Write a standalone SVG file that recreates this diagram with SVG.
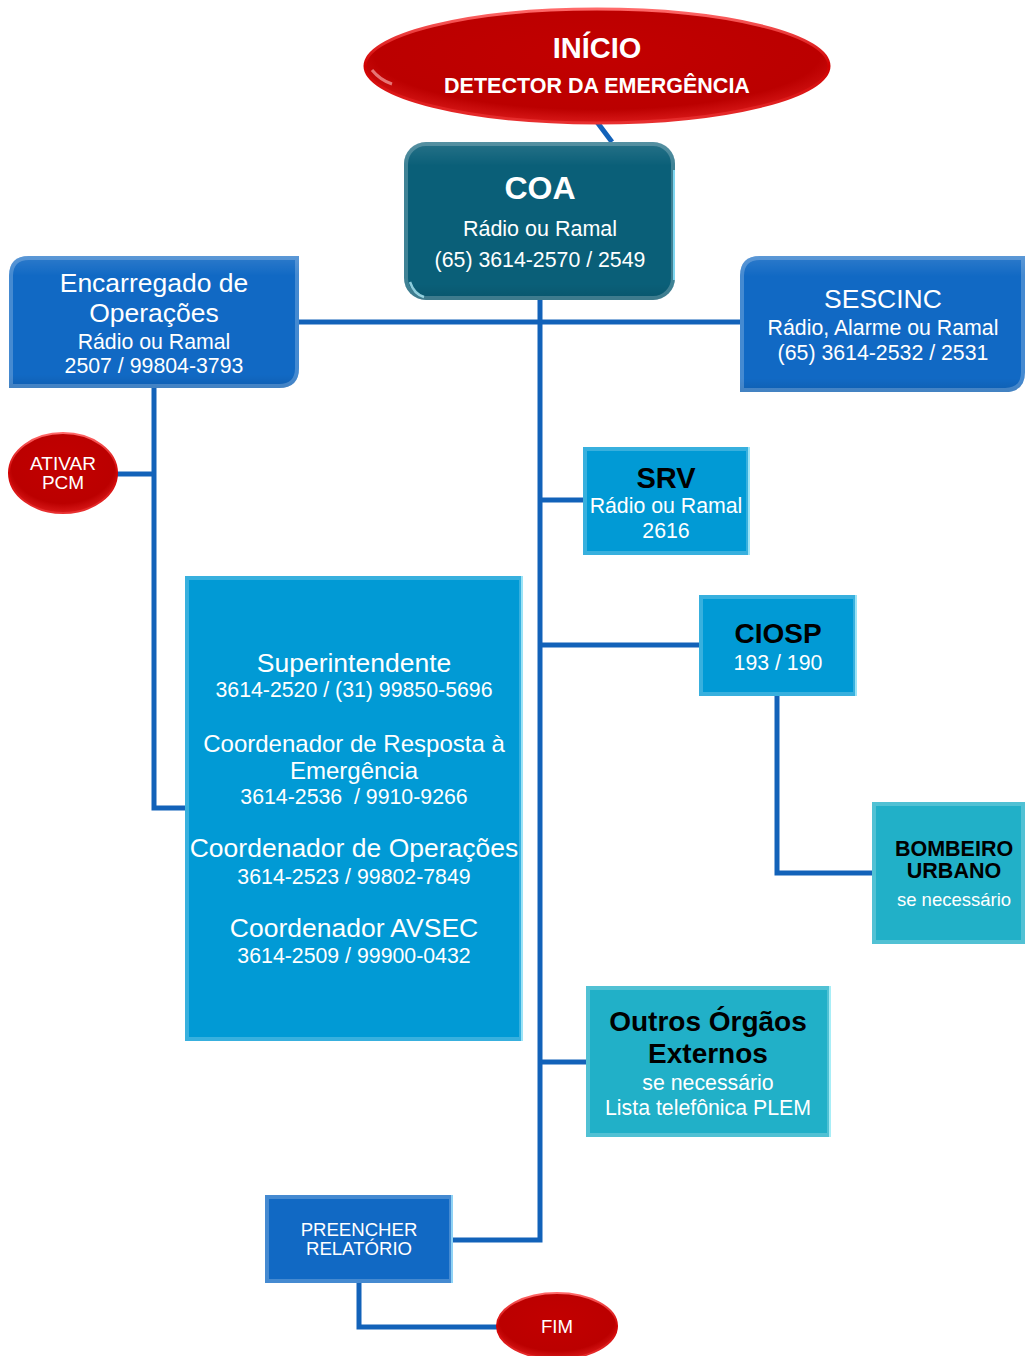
<svg xmlns="http://www.w3.org/2000/svg" width="1025" height="1356" viewBox="0 0 1025 1356">
  <style>
    .wire { fill: none; stroke: #1262b9; stroke-width: 5; stroke-linejoin: miter; }
    .t { font-family: "Liberation Sans", Arial, sans-serif; text-anchor: middle; fill: #ffffff; }
    .b { font-weight: bold; }
    .dk { fill: #000000; }
    .s { font-size: 21.3px; }
    .l { font-size: 26.5px; }
    .bevel { fill: none; stroke: #ffffff; stroke-opacity: 0.22; stroke-width: 4; }
  </style>
  <defs>
    <radialGradient id="redFill" cx="50%" cy="40%" r="60%">
      <stop offset="0" stop-color="#c20000"/>
      <stop offset="0.8" stop-color="#bb0000"/>
      <stop offset="1" stop-color="#d81818"/>
    </radialGradient>
    <linearGradient id="redRim" x1="0" y1="0" x2="0" y2="1">
      <stop offset="0" stop-color="#ff6a6a"/>
      <stop offset="0.5" stop-color="#d00000"/>
      <stop offset="1" stop-color="#e83030"/>
    </linearGradient>
    <linearGradient id="shade" x1="0" y1="0" x2="0" y2="1">
      <stop offset="0" stop-color="#ffffff" stop-opacity="0.12"/>
      <stop offset="0.15" stop-color="#ffffff" stop-opacity="0"/>
      <stop offset="0.9" stop-color="#000000" stop-opacity="0"/>
      <stop offset="1" stop-color="#000000" stop-opacity="0.1"/>
    </linearGradient>
  </defs>

  <!-- connectors -->
  <g id="connectors">
    <line class="wire" x1="597" y1="122" x2="612" y2="142"/>
    <polyline class="wire" points="540,300 540,1240 453,1240"/>
    <line class="wire" x1="299" y1="322" x2="740" y2="322"/>
    <polyline class="wire" points="154,388 154,808 186,808"/>
    <line class="wire" x1="117" y1="474" x2="154" y2="474"/>
    <line class="wire" x1="540" y1="500" x2="583" y2="500"/>
    <line class="wire" x1="540" y1="645" x2="699" y2="645"/>
    <polyline class="wire" points="777,696 777,873 872,873"/>
    <line class="wire" x1="540" y1="1062" x2="586" y2="1062"/>
    <polyline class="wire" points="359,1283 359,1327 497,1327"/>
  </g>

  <!-- start -->
  <g id="inicio">
    <ellipse cx="597" cy="66" rx="232" ry="57" fill="url(#redFill)" stroke="url(#redRim)" stroke-width="3"/>
    <path d="M372,70 Q380,80 392,84" fill="none" stroke="#ffc0c0" stroke-width="3" stroke-opacity="0.6"/>
    <text class="t b" x="597" y="58" font-size="29">INÍCIO</text>
    <text class="t b" x="597" y="93" font-size="21.5">DETECTOR DA EMERGÊNCIA</text>
  </g>

  <g id="coa">
    <rect x="404" y="142" width="271" height="158" rx="22" fill="#0a5f78"/>
    <rect x="404" y="142" width="271" height="158" rx="22" fill="url(#shade)"/>
    <rect x="406" y="144" width="267" height="154" rx="20" class="bevel" stroke-opacity="0.15"/>
    <line x1="674" y1="170" x2="674" y2="280" stroke="#7fd6f0" stroke-width="2"/>
    <path d="M410,282 Q414,294 424,297" fill="none" stroke="#aee8f5" stroke-width="2.5" stroke-opacity="0.8"/>
    <text class="t b" x="540" y="199" font-size="32">COA</text>
    <text class="t" x="540" y="236" font-size="21.5">Rádio ou Ramal</text>
    <text class="t" x="540" y="267" font-size="21.3">(65) 3614-2570 / 2549</text>
  </g>

  <g id="encarregado">
    <path d="M9,388 L9,276 Q9,256 29,256 L299,256 L299,368 Q299,388 279,388 Z" fill="#1169c4"/>
    <path d="M9,388 L9,276 Q9,256 29,256 L299,256 L299,368 Q299,388 279,388 Z" fill="url(#shade)"/>
    <path d="M11,386 L11,276 Q11,258 29,258 L297,258 L297,368 Q297,386 279,386 Z" class="bevel" stroke-width="3"/>
    <text class="t l" x="154" y="292">Encarregado de</text>
    <text class="t l" x="154" y="322">Operações</text>
    <text class="t s" x="154" y="349">Rádio ou Ramal</text>
    <text class="t s" x="154" y="373">2507 / 99804-3793</text>
  </g>

  <g id="sescinc">
    <path d="M740,392 L740,276 Q740,256 760,256 L1025,256 L1025,372 Q1025,392 1005,392 Z" fill="#1169c4"/>
    <path d="M740,392 L740,276 Q740,256 760,256 L1025,256 L1025,372 Q1025,392 1005,392 Z" fill="url(#shade)"/>
    <path d="M742,390 L742,276 Q742,258 760,258 L1023,258 L1023,372 Q1023,390 1005,390 Z" class="bevel" stroke-width="3"/>
    <text class="t l" x="883" y="308">SESCINC</text>
    <text class="t s" x="883" y="335">Rádio, Alarme ou Ramal</text>
    <text class="t s" x="883" y="360">(65) 3614-2532 / 2531</text>
  </g>

  <g id="ativar-pcm">
    <ellipse cx="63" cy="473" rx="54" ry="40" fill="url(#redFill)" stroke="url(#redRim)" stroke-width="2"/>
    <text class="t" x="63" y="470" font-size="19">ATIVAR</text>
    <text class="t" x="63" y="489" font-size="19">PCM</text>
  </g>

  <g id="srv">
    <rect x="583" y="447" width="167" height="108" fill="#019ad5"/>
    <rect x="585" y="449" width="163" height="104" class="bevel" stroke-width="4"/>
    <line x1="749" y1="447" x2="749" y2="555" stroke="#9be4f7" stroke-width="2"/>
    <text class="t b dk" x="666" y="488" font-size="29">SRV</text>
    <text class="t s" x="666" y="513">Rádio ou Ramal</text>
    <text class="t s" x="666" y="538">2616</text>
  </g>

  <g id="ciosp">
    <rect x="699" y="595" width="158" height="101" fill="#019ad5"/>
    <rect x="701" y="597" width="154" height="97" class="bevel" stroke-width="4"/>
    <line x1="856" y1="595" x2="856" y2="696" stroke="#9be4f7" stroke-width="2"/>
    <text class="t b dk" x="778" y="643" font-size="28">CIOSP</text>
    <text class="t s" x="778" y="670">193 / 190</text>
  </g>

  <g id="bombeiro">
    <rect x="872" y="802" width="153" height="142" fill="#21b0c8"/>
    <rect x="874" y="804" width="149" height="138" class="bevel" stroke-width="4"/>
    <text class="t b dk" x="954" y="856" font-size="21.5">BOMBEIRO</text>
    <text class="t b dk" x="954" y="878" font-size="21.5">URBANO</text>
    <text class="t" x="954" y="906" font-size="18.5">se necessário</text>
  </g>

  <g id="coordenacao">
    <rect x="185" y="576" width="338" height="465" fill="#019ad5"/>
    <rect x="187" y="578" width="334" height="461" class="bevel" stroke-width="4"/>
    <line x1="522" y1="576" x2="522" y2="1041" stroke="#9be4f7" stroke-width="2"/>
    <text class="t l" x="354" y="672">Superintendente</text>
    <text class="t s" x="354" y="697">3614-2520 / (31) 99850-5696</text>
    <text class="t" x="354" y="752" font-size="24">Coordenador de Resposta à</text>
    <text class="t" x="354" y="779" font-size="24">Emergência</text>
    <text class="t s" x="354" y="804" xml:space="preserve">3614-2536  / 9910-9266</text>
    <text class="t l" x="354" y="857">Coordenador de Operações</text>
    <text class="t s" x="354" y="884">3614-2523 / 99802-7849</text>
    <text class="t l" x="354" y="937">Coordenador AVSEC</text>
    <text class="t s" x="354" y="963">3614-2509 / 99900-0432</text>
  </g>

  <g id="outros-orgaos">
    <rect x="586" y="986" width="245" height="151" fill="#21b0c8"/>
    <rect x="588" y="988" width="241" height="147" class="bevel" stroke-width="4"/>
    <line x1="830" y1="986" x2="830" y2="1137" stroke="#a8eef7" stroke-width="2"/>
    <text class="t b dk" x="708" y="1031" font-size="28">Outros Órgãos</text>
    <text class="t b dk" x="708" y="1063" font-size="28">Externos</text>
    <text class="t s" x="708" y="1090">se necessário</text>
    <text class="t s" x="708" y="1115">Lista telefônica PLEM</text>
  </g>

  <g id="preencher-relatorio">
    <rect x="265" y="1195" width="188" height="88" fill="#1169c4"/>
    <rect x="267" y="1197" width="184" height="84" class="bevel" stroke-width="4"/>
    <line x1="452" y1="1195" x2="452" y2="1283" stroke="#8fd3f5" stroke-width="2"/>
    <text class="t" x="359" y="1236" font-size="18.6">PREENCHER</text>
    <text class="t" x="359" y="1255" font-size="18.6">RELATÓRIO</text>
  </g>

  <g id="fim">
    <ellipse cx="557" cy="1326" rx="60" ry="33" fill="url(#redFill)" stroke="url(#redRim)" stroke-width="2"/>
    <text class="t" x="557" y="1333" font-size="18.6">FIM</text>
  </g>
</svg>
